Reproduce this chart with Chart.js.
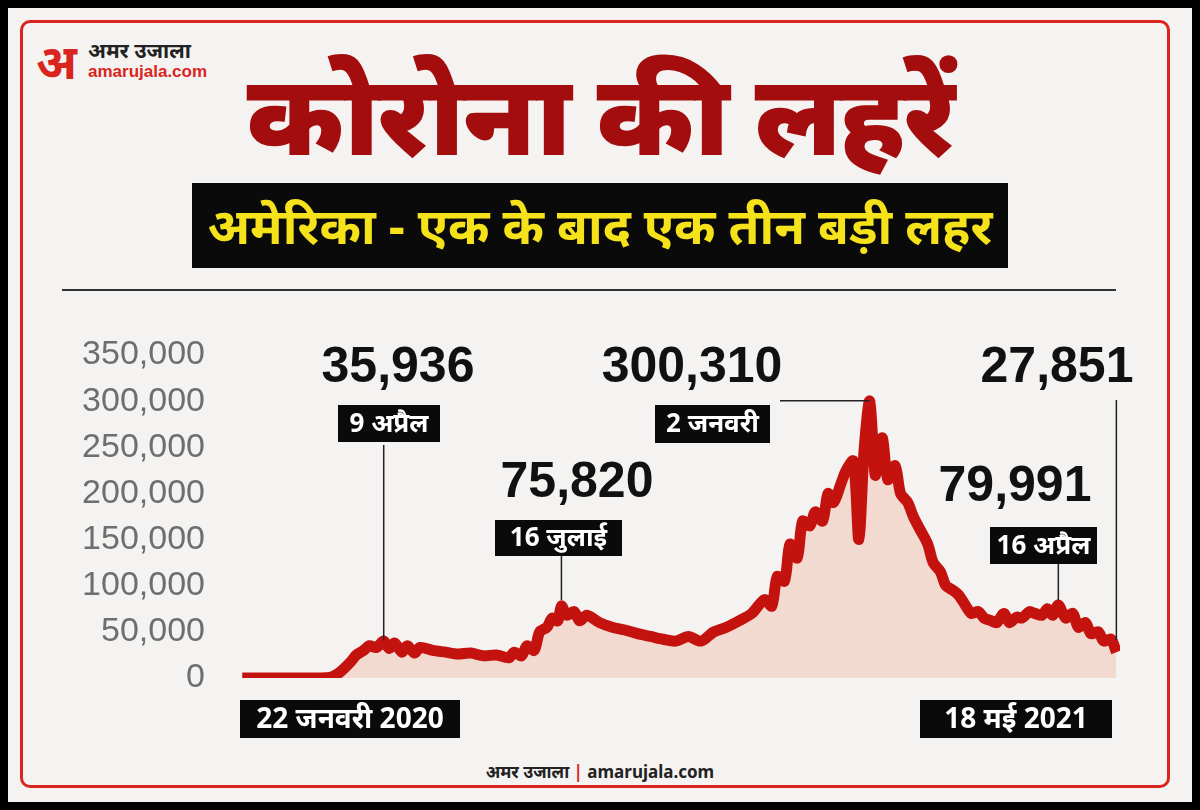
<!DOCTYPE html>
<html><head><meta charset="utf-8">
<script src="https://cdn.jsdelivr.net/npm/chart.js@4"></script>
<style>
body{margin:0;width:1200px;height:810px;background:#000;font-family:"Liberation Sans",Arial,sans-serif;overflow:hidden}
#page{position:absolute;left:8px;top:8px;width:1184px;height:794px;background:#f4f3f1}
#frame{position:absolute;left:20px;top:20px;width:1150px;height:768px;border:3px solid #d9251d;border-radius:10px;box-sizing:border-box}
#title{position:absolute;left:0;width:1200px;top:35px;text-align:center;font:900 112px "Noto Sans",sans-serif;color:#a30d0d;letter-spacing:-2px}
#sub{position:absolute;left:192px;top:183px;width:816px;height:85px;background:#0a0a0a;color:#f5e21b;font:bold 50px "Noto Sans",sans-serif;text-align:center;line-height:85px}
#rule{position:absolute;left:62px;top:289px;width:1054px;height:2px;background:#333}
#logo{position:absolute;left:36px;top:36px}
#logo .a{position:absolute;left:0;top:-8px;font:bold 48px "Noto Sans",sans-serif;color:#d9251d}
#logo .n{position:absolute;left:52px;top:0;font:bold 21px "Noto Sans",sans-serif;color:#222;white-space:nowrap}
#logo .d{position:absolute;left:52px;top:26px;font:bold 17px "Liberation Sans",sans-serif;color:#d9251d;white-space:nowrap}
#foot{position:absolute;left:0;width:1200px;top:760px;text-align:center;font:bold 17px "Noto Sans",sans-serif;color:#222}
canvas{position:absolute;left:0;top:0}
</style></head><body>
<div id="page"></div><div id="frame"></div>
<div id="logo"><span class="a">अ</span><span class="n">अमर उजाला</span><span class="d">amarujala.com</span></div>
<div id="title">कोरोना की लहरें</div>
<div id="sub">अमेरिका - एक के बाद एक तीन बड़ी लहर</div>
<div id="rule"></div>
<div id="foot">अमर उजाला <span style="color:#d9251d">|</span> amarujala.com</div>
<canvas id="c" width="1200" height="810"></canvas>
<script>
// days since 22 Jan 2020
const days = [0,7,14,21,28,35,42,49,53,56,60,63,67,70,74,78,81,84,88,91,95,98,105,112,119,126,133,140,147,150,154,157,161,164,168,171,174,176,179,183,186,190,197,204,211,218,225,232,239,246,253,260,267,274,281,288,292,295,299,302,306,309,313,316,320,323,326,330,333,337,340,343,346,349,351,353,356,360,363,367,370,374,378,381,385,388,392,395,399,402,406,409,413,416,420,423,427,430,434,437,441,444,447,450,454,458,461,465,468,472,475,479,482];
const cases = [0,0,0,0,0,0,0,1,5,10,18,25,30,35,33,40,32,38,28,35,27,33,30,28,26,27,24,25,22,28,24,35,30,50,55,65,62,78,68,72,62,68,60,55,52,48,45,42,40,45,40,50,55,62,70,85,78,110,105,145,130,170,165,180,170,200,190,210,225,235,150,250,300,220,245,260,215,230,200,190,175,160,145,125,115,100,95,90,78,70,72,65,62,60,70,60,66,65,72,70,68,75,68,79,65,70,55,60,48,50,40,42,28];
const yTicks = [0,50000,100000,150000,200000,250000,300000,350000];

const notes = [
  {num:'35,936', date:'9 अप्रैल', cx:398, box:[338,405,102,37], day:78, y1:445, y2:640},
  {num:'75,820', date:'16 जुलाई', cx:577, ny:483, box:[495,520,127,36], day:176, y1:556, y2:600},
  {num:'300,310', date:'2 जनवरी', cx:692, box:[655,405,115,38], day:346, y1:null},
  {num:'27,851', date:null, cx:1057, day:482, y1:400, y2:640},
  {num:'79,991', date:'16 अप्रैल', cx:1015, ny:487, box:[990,527,107,37], day:450, y1:564, y2:600}
];
const bottomBoxes = [['22 जनवरी 2020',240,700,220],['18 मई 2021',920,700,192]];

const notePlugin = {
  id:'notes',
  afterDraw(chart){
    const ctx = chart.ctx, x = chart.scales.x, y = chart.scales.y;
    ctx.save();
    ctx.strokeStyle = '#222'; ctx.lineWidth = 1.5;
    notes.forEach(n => {
      const px = x.getPixelForValue(n.day);
      if (n.y1 !== null) {
        ctx.beginPath(); ctx.moveTo(px,n.y1); ctx.lineTo(px,n.y2); ctx.stroke();
      } else {
        const py = y.getPixelForValue(300310);
        ctx.beginPath(); ctx.moveTo(780,py); ctx.lineTo(px,py); ctx.stroke();
      }
      ctx.fillStyle = '#111'; ctx.textAlign = 'center'; ctx.textBaseline = 'middle';
      ctx.font = 'bold 50px "Liberation Sans", Arial, sans-serif';
      ctx.fillText(n.num, n.cx, n.ny || 368);
      if (n.date) {
        const [bx,by,bw,bh] = n.box;
        ctx.fillStyle = '#0a0a0a'; ctx.fillRect(bx,by,bw,bh);
        ctx.fillStyle = '#fff'; ctx.font = 'bold 26px "Noto Sans", sans-serif';
        ctx.fillText(n.date, bx+bw/2, by+bh/2+1);
      }
    });
    bottomBoxes.forEach(([t,bx,by,bw]) => {
      ctx.fillStyle = '#0a0a0a'; ctx.fillRect(bx,by,bw,38);
      ctx.fillStyle = '#fff'; ctx.font = 'bold 28px "Noto Sans", sans-serif';
      ctx.textAlign = 'center'; ctx.textBaseline = 'middle';
      ctx.fillText(t, bx+bw/2, by+20);
    });
    ctx.restore();
  }
};

new Chart(document.getElementById('c'), {
  type:'line',
  data:{datasets:[{
    data: days.map((d,i) => ({x:d, y:cases[i]*1000})),
    borderColor:'#c4120f', backgroundColor:'rgba(240,196,180,0.55)', fill:'origin',
    borderWidth:11, tension:0.3, pointRadius:0
  }]},
  options:{
    responsive:false, animation:false, devicePixelRatio:1,
    layout:{padding:{left:0,right:80,top:355,bottom:132}},
    plugins:{legend:{display:false},tooltip:{enabled:false}},
    scales:{
      x:{type:'linear',min:-4,max:484,display:false},
      y:{min:0,max:350000,afterBuildTicks:s=>{s.ticks=yTicks.map(v=>({value:v}));},
         afterFit:s=>{s.width=235;},
         grid:{display:false},border:{display:false},
         ticks:{padding:22,color:'#6e6e6e',font:{size:34,family:'"Liberation Sans Narrow","Liberation Sans",sans-serif'},
                callback:v=>v.toLocaleString('en-US')}}
    }
  },
  plugins:[notePlugin]
});
</script>
</body></html>
